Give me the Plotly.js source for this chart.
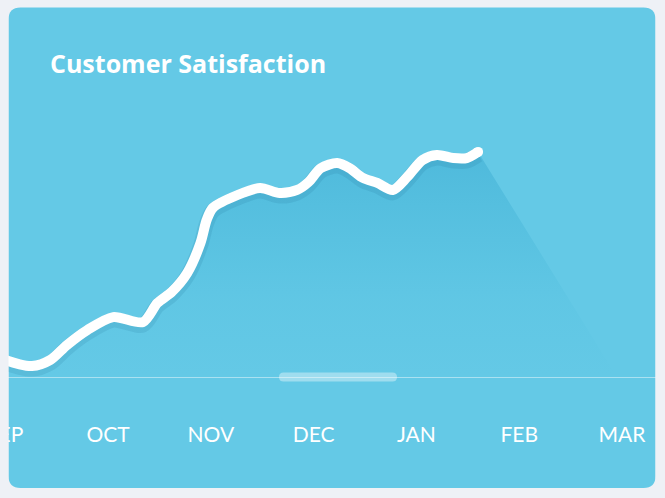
<!DOCTYPE html>
<html><head><meta charset="utf-8">
<script src="https://cdn.plot.ly/plotly-3.0.1.min.js"></script>
<style>html,body{margin:0;padding:0;background:#eef1f6;}#chart{width:665px;height:498px;}</style>
</head><body><div id="chart"></div>
<script>
// ---- data ----
const months = ['SEP','OCT','NOV','DEC','JAN','FEB','MAR'];
const monthPos = [0, 1, 2, 3, 4, 5, 6];
// time in month units (0 = SEP, 1 = OCT, ...)
const t = [-0.06, 0.03, 0.26, 0.44, 0.60, 0.80, 1.05, 1.34, 1.48, 1.62, 1.77, 1.90, 1.96, 2.02, 2.26, 2.48, 2.67, 2.84, 2.95, 3.07, 3.23, 3.35, 3.48, 3.62, 3.77, 3.91, 4.06, 4.20, 4.36, 4.49, 4.60];
const score = [7.5, 5.7, 3.9, 6.1, 11.4, 16.8, 21.4, 19.6, 26.4, 30.4, 37.1, 47.9, 56.1, 60.4, 65.0, 67.5, 65.7, 66.8, 69.6, 74.6, 76.4, 74.6, 71.1, 69.3, 66.8, 71.4, 77.5, 79.3, 78.2, 78.2, 80.4];
// where the long shadow of the line meets the baseline
const shadowEndT = 5.95;
const shadowEndScore = 0;

// ---- geometry helpers (decoration only) ----
const W = 665, H = 498, MT = 97, MB = 78;
const plotTop = MT, plotBot = H - MB, ph = plotBot - plotTop;
function P(x, y) { return (x / W).toFixed(5) + ',' + ((plotBot - y) / ph).toFixed(5); }
function roundRect(x0, y0, x1, y1, r) {
  return 'M' + P(x0 + r, y0) + ' L' + P(x1 - r, y0) + ' Q' + P(x1, y0) + ' ' + P(x1, y0 + r) +
    ' L' + P(x1, y1 - r) + ' Q' + P(x1, y1) + ' ' + P(x1 - r, y1) +
    ' L' + P(x0 + r, y1) + ' Q' + P(x0, y1) + ' ' + P(x0, y1 - r) +
    ' L' + P(x0, y0 + r) + ' Q' + P(x0, y0) + ' ' + P(x0 + r, y0) + ' Z';
}
const outer = '#eef1f6';
const card = '#64c9e6';

const yRange = [-15.357, 100];
const shift = 3 / 2.8;

const traces = [
  { // long soft shadow under the curve
    x: t.concat([shadowEndT]), y: score.concat([shadowEndScore]),
    type: 'scatter', mode: 'lines', line: { width: 0, shape: 'linear' },
    fill: 'tozeroy',
    fillgradient: { type: 'vertical', start: 0, stop: 80,
      colorscale: [[0, 'rgba(30,160,200,0)'], [0.35, 'rgba(30,160,200,0.06)'], [1, 'rgba(30,150,195,0.30)']] },
    hoverinfo: 'skip', showlegend: false
  },
  { // blurred line shadow
    x: t, y: score, yaxis: 'y2', type: 'scatter', mode: 'lines',
    line: { color: 'rgba(20,100,140,0.13)', width: 15, shape: 'spline', smoothing: 0.8 },
    hoverinfo: 'skip', showlegend: false
  },
  { // main line
    x: t, y: score, yaxis: 'y3', type: 'scatter', mode: 'lines',
    line: { color: '#ffffff', width: 10, shape: 'spline', smoothing: 0.8 },
    hoverinfo: 'skip', showlegend: false
  },
  { // rounded end cap
    x: [t[t.length - 1]], y: [score[score.length - 1]], yaxis: 'y3', type: 'scatter', mode: 'markers',
    marker: { color: '#ffffff', size: 10, line: { width: 0 } },
    hoverinfo: 'skip', showlegend: false
  }
];

const layout = {
  width: W, height: H,
  margin: { l: 0, r: 0, t: MT, b: MB, pad: 0 },
  paper_bgcolor: outer, plot_bgcolor: 'rgba(0,0,0,0)',
  showlegend: false,
  title: { text: 'Customer Satisfaction', x: 50 / W, xanchor: 'left', xref: 'container',
    y: 1 - 64 / H, yanchor: 'middle', yref: 'container',
    font: { family: 'Open Sans', size: 25, color: '#ffffff', weight: 700 } },
  xaxis: { range: [-0.0506, 6.4183], tickvals: monthPos, ticktext: months,
    showgrid: false, zeroline: false, showline: false, ticks: '', ticklabeloverflow: 'allow',
    tickfont: { family: 'Lato', size: 21, color: '#ffffff' }, fixedrange: true },
  yaxis: { range: yRange, showgrid: false, showticklabels: false, ticks: '',
    zeroline: true, zerolinecolor: 'rgba(255,255,255,0.45)', zerolinewidth: 1, fixedrange: true },
  yaxis2: { range: [yRange[0] + shift, yRange[1] + shift], overlaying: 'y', showgrid: false,
    showticklabels: false, zeroline: false, fixedrange: true },
  yaxis3: { range: yRange, overlaying: 'y', showgrid: false,
    showticklabels: false, zeroline: false, fixedrange: true },
  shapes: [
    { type: 'path', xref: 'paper', yref: 'paper', layer: 'below', path: roundRect(8.5, 7.5, 655.5, 488, 12),
      fillcolor: card, line: { width: 0 } },
    { type: 'path', xref: 'paper', yref: 'paper', layer: 'above', path: roundRect(279, 372.5, 397, 381.5, 4.5),
      fillcolor: 'rgba(255,255,255,0.38)', line: { width: 0 } },
    { type: 'rect', xref: 'paper', yref: 'paper', layer: 'above', x0: 0, x1: 8.5 / W,
      y0: (plotBot - H) / ph, y1: plotBot / ph, fillcolor: outer, line: { width: 0 } },
    { type: 'rect', xref: 'paper', yref: 'paper', layer: 'above', x0: 655.5 / W, x1: 1,
      y0: (plotBot - H) / ph, y1: plotBot / ph, fillcolor: outer, line: { width: 0 } }
  ]
};

Plotly.newPlot('chart', traces, layout, { staticPlot: true, displayModeBar: false });
</script></body></html>
